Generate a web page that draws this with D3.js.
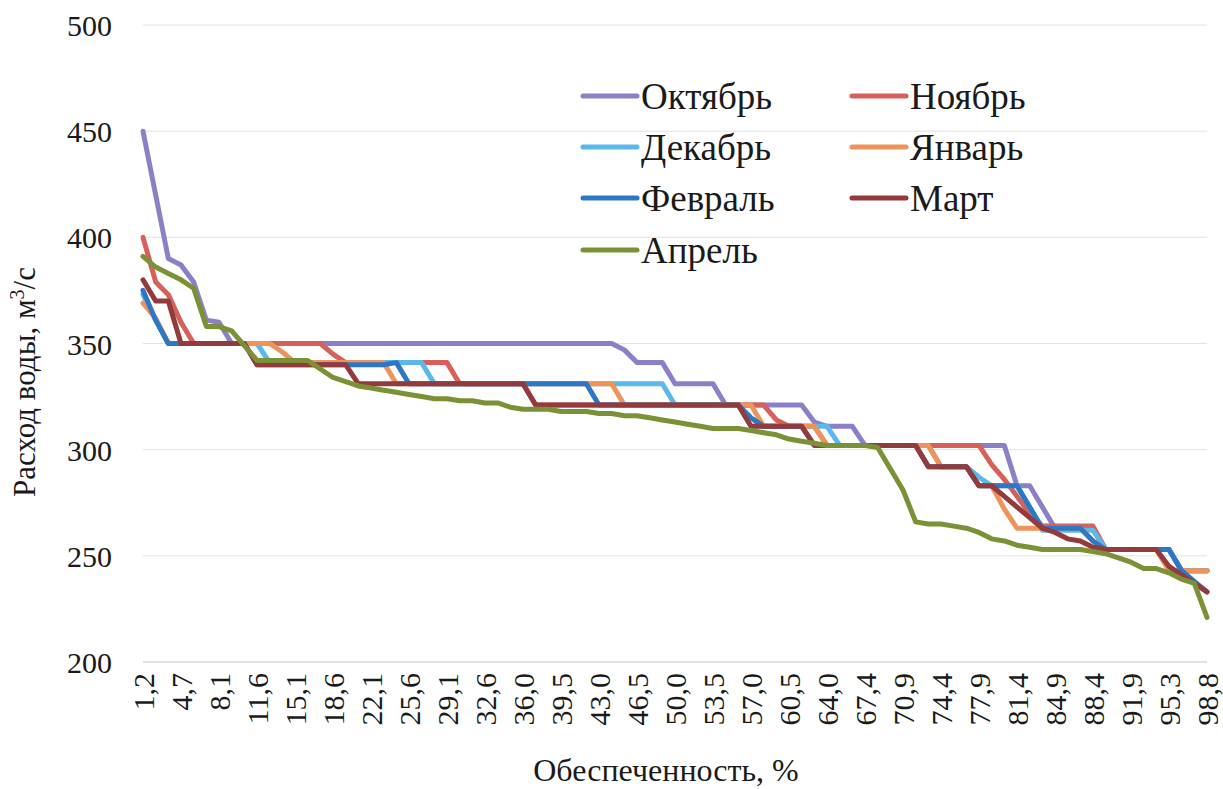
<!DOCTYPE html>
<html>
<head>
<meta charset="utf-8">
<script src="https://cdn.jsdelivr.net/npm/d3@7"></script>
<style>
  html, body { margin: 0; padding: 0; background: #ffffff; }
  svg { display: block; }
  svg text { font-family: 'Liberation Serif', 'DejaVu Serif', serif !important; fill: #1a1a1a; }
</style>
</head>
<body>
<svg id="chart" width="1223" height="789"></svg>
<script>
// ---- data ----
const categories = ["1,2","2,3","3,5","4,7","5,8","7,0","8,1","9,3","10,5","11,6","12,8","14,0","15,1","16,3","17,4","18,6","19,8","20,9","22,1","23,3","24,4","25,6","26,7","27,9","29,1","30,2","31,4","32,6","33,7","34,9","36,0","37,2","38,4","39,5","40,7","41,9","43,0","44,2","45,3","46,5","47,7","48,8","50,0","51,2","52,3","53,5","54,7","55,8","57,0","58,1","59,3","60,5","61,6","62,8","64,0","65,1","66,3","67,4","68,6","69,8","70,9","72,1","73,3","74,4","75,6","76,7","77,9","79,1","80,2","81,4","82,6","83,7","84,9","86,0","87,2","88,4","89,5","90,7","91,9","93,0","94,2","95,3","96,5","97,7","98,8"];

const seriesNames = ["Октябрь","Ноябрь","Декабрь","Январь","Февраль","Март","Апрель"];

const october = [450,420,390,387,379,361,360,350,350,350,350,350,350,350,350,350,350,350,350,350,350,350,350,350,350,350,350,350,350,350,350,350,350,350,350,350,350,350,347,341,341,341,331,331,331,331,321,321,321,321,321,321,321,313,311,311,311,302,302,302,302,302,302,302,302,302,302,302,302,283,283,273,263,263,263,263,253,253,253,253,253,253,243,243,243];

const november = [400,379,373,360,350,350,350,350,350,350,350,350,350,350,350,345,341,341,341,341,341,341,341,341,341,331,331,331,331,331,331,321,321,321,321,321,321,321,321,321,321,321,321,321,321,321,321,321,321,321,314,311,311,311,302,302,302,302,302,302,302,302,302,302,302,302,302,293,286,278,270,264,264,264,264,264,253,253,253,253,253,253,243,243,243];

const december = [373,361,350,350,350,350,350,350,350,350,341,341,341,341,341,341,341,341,341,341,341,341,341,331,331,331,331,331,331,331,331,331,331,331,331,331,331,331,331,331,331,331,321,321,321,321,321,321,311,311,311,311,311,311,311,302,302,302,302,302,302,302,302,292,292,292,287,283,283,283,273,262,262,262,262,262,253,253,253,253,253,253,243,243,243];

const january = [369,362,350,350,350,350,350,350,350,350,350,346,341,341,341,341,341,341,341,341,331,331,331,331,331,331,331,331,331,331,331,331,331,331,331,331,331,331,321,321,321,321,321,321,321,321,321,321,321,311,311,311,311,311,302,302,302,302,302,302,302,302,302,292,292,292,283,283,272,263,263,263,263,263,263,257,253,253,253,253,253,243,243,243,243];

const february = [375,361,350,350,350,350,350,350,350,340,340,340,340,340,340,340,340,340,340,340,341,331,331,331,331,331,331,331,331,331,331,331,331,331,331,331,321,321,321,321,321,321,321,321,321,321,321,321,315,311,311,311,311,302,302,302,302,302,302,302,302,302,292,292,292,292,283,283,283,283,273,263,263,263,263,257,253,253,253,253,253,253,243,238,233];

const march = [380,370,370,350,350,350,350,350,350,340,340,340,340,340,340,340,340,331,331,331,331,331,331,331,331,331,331,331,331,331,331,321,321,321,321,321,321,321,321,321,321,321,321,321,321,321,321,321,311,311,311,311,311,302,302,302,302,302,302,302,302,302,292,292,292,292,283,283,278,273,268,263,261,258,257,254,253,253,253,253,253,245,241,237,233];

const april = [391,386,383,380,376,358,358,356,349,342,342,342,342,342,338,334,332,330,329,328,327,326,325,324,324,323,323,322,322,320,319,319,319,318,318,318,317,317,316,316,315,314,313,312,311,310,310,310,309,308,307,305,304,303,302,302,302,302,301,291,281,266,265,265,264,263,261,258,257,255,254,253,253,253,253,252,251,249,247,244,244,242,239,237,221];

const seriesValues = [october, november, december, january, february, march, april];
const seriesColors = ["#8b80c8","#d6605a","#5bb8ea","#ef935c","#2c78c4","#923a3c","#7a9135"];

const yTicks = [200,250,300,350,400,450,500];
const xTickEvery = 3;
const yTitle = "Расход воды, м";
const yTitleSup = "3";
const yTitleEnd = "/с";
const xTitle = "Обеспеченность, %";

// ---- drawing ----
const FONT = "'Liberation Serif', 'DejaVu Serif', serif";
const svg = d3.select("#chart").attr("font-family", FONT);
const W = 1223, H = 789;
svg.append("rect").attr("width", W).attr("height", H).attr("fill", "#ffffff");

const x = d3.scalePoint().domain(categories).range([143, 1207]);
const y = d3.scaleLinear().domain([200, 500]).range([662, 25]);

// gridlines
svg.append("g").selectAll("line").data(yTicks.filter(v => v > 200)).join("line")
  .attr("x1", 143).attr("x2", 1207)
  .attr("y1", d => y(d)).attr("y2", d => y(d))
  .attr("stroke", "#e2e2e2").attr("stroke-width", 1);

// x axis baseline
svg.append("line")
  .attr("x1", 143).attr("x2", 1207)
  .attr("y1", y(200)).attr("y2", y(200))
  .attr("stroke", "#c4c4c4").attr("stroke-width", 1.2);

// y axis labels
const yAxis = d3.axisLeft(y).tickValues(yTicks).tickSize(0).tickPadding(0).tickFormat(d3.format("d"));
const gy = svg.append("g").attr("transform", "translate(112,0)").call(yAxis)
  .attr("font-family", FONT).attr("font-size", 30);
gy.select(".domain").remove();
gy.selectAll("text")
  .attr("font-family", FONT)
  .attr("fill", "#1a1a1a")
  .attr("dy", "0.35em");

// x axis labels
const xAxis = d3.axisBottom(x)
  .tickValues(categories.filter((c, i) => i % xTickEvery === 0))
  .tickSize(0).tickPadding(0);
const gx = svg.append("g").attr("transform", "translate(0,673)").call(xAxis)
  .attr("font-family", FONT).attr("font-size", 30);
gx.select(".domain").remove();
gx.selectAll("text")
  .attr("font-family", FONT)
  .attr("fill", "#1a1a1a")
  .attr("text-anchor", "end")
  .attr("transform", "rotate(-90)")
  .attr("x", 0)
  .attr("y", 0)
  .attr("dy", "0.35em");

// lines
const line = d3.line()
  .x((d, i) => x(categories[i]))
  .y(d => y(d));

svg.append("g").selectAll("path").data(seriesValues).join("path")
  .attr("d", d => line(d))
  .attr("fill", "none")
  .attr("stroke", (d, i) => seriesColors[i])
  .attr("stroke-width", 5)
  .attr("stroke-linejoin", "round")
  .attr("stroke-linecap", "round");

// legend
const legendCols = [583, 852];
const legendRows = [96, 147, 198, 250];
const leg = svg.append("g");
seriesNames.forEach((name, i) => {
  const lx = legendCols[i % 2];
  const ly = legendRows[Math.floor(i / 2)];
  leg.append("line")
    .attr("x1", lx).attr("x2", lx + 54)
    .attr("y1", ly).attr("y2", ly)
    .attr("stroke", seriesColors[i]).attr("stroke-width", 5)
    .attr("stroke-linecap", "round");
  leg.append("text")
    .attr("x", lx + 58).attr("y", ly)
    .attr("dy", "0.35em")
    .attr("font-family", FONT)
    .attr("font-size", 37)
    .text(name);
});

// axis titles
const yt = svg.append("text")
  .attr("transform", "translate(35,382) rotate(-90)")
  .attr("text-anchor", "middle")
  .attr("font-family", FONT)
  .attr("font-size", 31);
yt.append("tspan").text(yTitle);
yt.append("tspan").attr("baseline-shift", "super").attr("font-size", 20).text(yTitleSup);
yt.append("tspan").text(yTitleEnd);

svg.append("text")
  .attr("x", 666).attr("y", 781)
  .attr("text-anchor", "middle")
  .attr("font-family", FONT)
  .attr("font-size", 32)
  .text(xTitle);
</script>
</body>
</html>
